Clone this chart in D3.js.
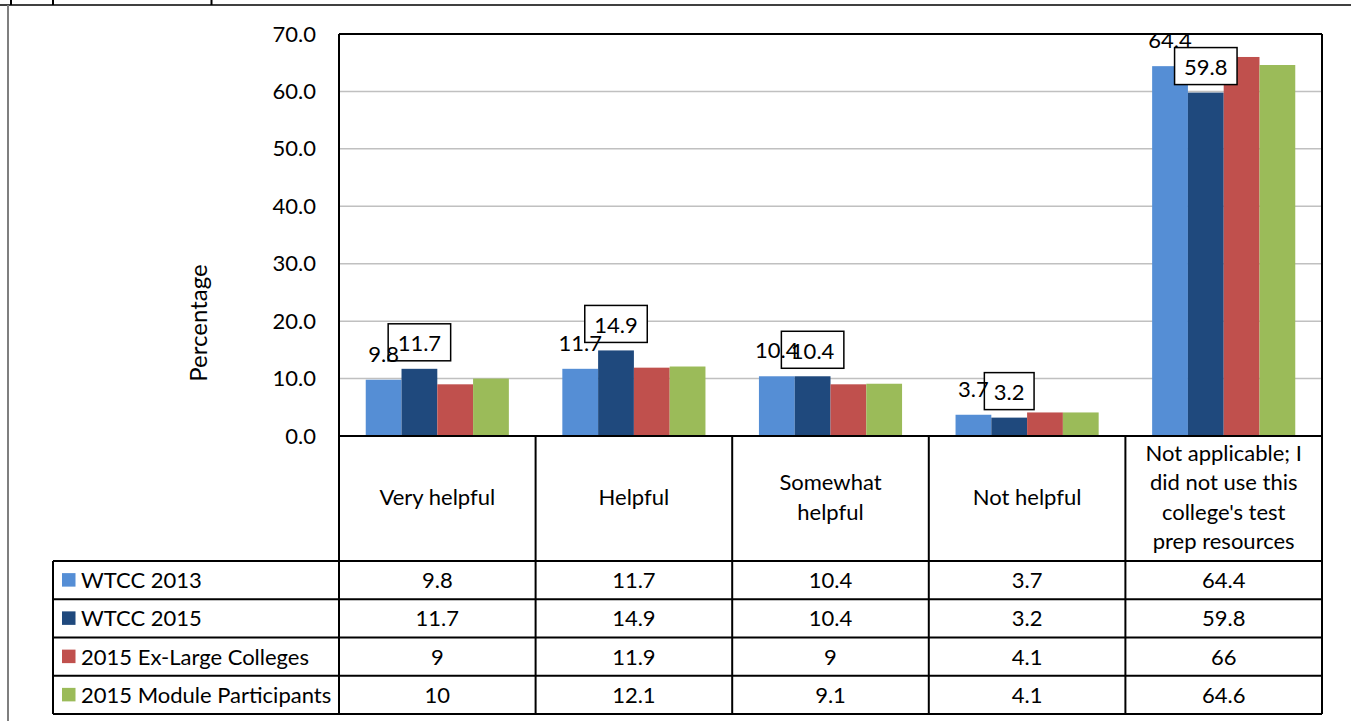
<!DOCTYPE html>
<html>
<head>
<meta charset="utf-8">
<script src="https://cdn.jsdelivr.net/npm/d3@7"></script>
<style>
  html, body { margin: 0; padding: 0; background: #fff; }
  svg { display: block; }
  text { font-family: Lato, "Open Sans", sans-serif; fill: #000; }
</style>
</head>
<body>
<svg id="chart" width="1351" height="721"></svg>
<script>
// Survey responses: helpfulness of the college's test prep resources
const categories = [
  "Very helpful",
  "Helpful",
  "Somewhat helpful",
  "Not helpful",
  "Not applicable; I did not use this college's test prep resources"
];
// Wrapped header text for the category cells of the data table
const categoryLines = [
  ["Very helpful"],
  ["Helpful"],
  ["Somewhat", "helpful"],
  ["Not helpful"],
  ["Not applicable; I", "did not use this", "college's test", "prep resources"]
];
const seriesNames = ["WTCC 2013", "WTCC 2015", "2015 Ex-Large Colleges", "2015 Module Participants"];
const wtcc2013 = [9.8, 11.7, 10.4, 3.7, 64.4];
const wtcc2015 = [11.7, 14.9, 10.4, 3.2, 59.8];
const exLarge2015 = [9, 11.9, 9, 4.1, 66];
const module2015 = [10, 12.1, 9.1, 4.1, 64.6];
const seriesValues = [wtcc2013, wtcc2015, exLarge2015, module2015];
const seriesColors = ["#558ED5", "#1F497D", "#C0504D", "#9BBB59"];
const yTicks = [0, 10, 20, 30, 40, 50, 60, 70];
const yTitle = "Percentage";

const svg = d3.select("#chart");
const FONT = 22;

// Plot area geometry
const plotL = 339, plotR = 1322, plotT = 34, plotB = 436;
const headerB = 561;
const rowH = 38.25;
const legendL = 53;

const x = d3.scaleBand().domain(categories).range([plotL, plotR]).padding(0);
const bw = x.bandwidth();
const groupPad = bw * 0.136;
const xs = d3.scaleBand().domain(seriesNames).range([groupPad, bw - groupPad]).padding(0);
const y = d3.scaleLinear().domain([0, 70]).range([plotB, plotT]);

// Fragment of the page above the chart
const page = svg.append("g");
page.append("line").attr("x1", 0).attr("x2", 1351).attr("y1", 5).attr("y2", 5)
  .attr("stroke", "#000").attr("stroke-width", 1.5);
[11, 53, 211.5].forEach(px => {
  page.append("line").attr("x1", px).attr("x2", px).attr("y1", 0).attr("y2", 5)
    .attr("stroke", "#000").attr("stroke-width", 2);
});
page.append("line").attr("x1", 8).attr("x2", 8).attr("y1", 5).attr("y2", 721)
  .attr("stroke", "#7f7f7f").attr("stroke-width", 2);

// Gridlines
svg.append("g").selectAll("line").data(yTicks).join("line")
  .attr("x1", plotL).attr("x2", plotR)
  .attr("y1", d => y(d)).attr("y2", d => y(d))
  .attr("stroke", "#c0c0c0").attr("stroke-width", 1.5);

// Bars
const groups = svg.append("g").selectAll("g").data(categories).join("g")
  .attr("transform", d => `translate(${x(d)},0)`);
groups.selectAll("rect")
  .data((c, i) => seriesNames.map((s, k) => ({ s, k, v: seriesValues[k][i] })))
  .join("rect")
  .attr("x", d => xs(d.s))
  .attr("width", xs.bandwidth())
  .attr("y", d => y(d.v))
  .attr("height", d => y(0) - y(d.v))
  .attr("fill", d => seriesColors[d.k]);

// Y axis tick labels
const yAxis = d3.axisLeft(y).tickValues(yTicks).tickFormat(d3.format(".1f")).tickSize(0).tickPadding(23);
const yg = svg.append("g").attr("transform", `translate(${plotL},0)`).call(yAxis);
yg.select(".domain").remove();
yg.selectAll("text").attr("font-size", FONT).attr("font-family", "Lato").attr("fill", "#000");

// Y axis title
svg.append("text")
  .attr("transform", `translate(207,323) rotate(-90)`)
  .attr("text-anchor", "middle")
  .attr("font-size", 24)
  .text(yTitle);

// Plot frame and data table grid
const grid = svg.append("g").attr("stroke", "#000").attr("stroke-width", 2).attr("fill", "none");
const rowYs = d3.range(5).map(i => headerB + i * rowH);
grid.append("line").attr("x1", plotL).attr("x2", plotR).attr("y1", plotT).attr("y2", plotT);
grid.append("line").attr("x1", plotL).attr("x2", plotR).attr("y1", plotB).attr("y2", plotB);
rowYs.forEach(ry => {
  grid.append("line").attr("x1", legendL).attr("x2", plotR).attr("y1", ry).attr("y2", ry);
});
grid.append("line").attr("x1", plotL).attr("x2", plotL).attr("y1", plotT).attr("y2", rowYs[4]);
grid.append("line").attr("x1", plotR).attr("x2", plotR).attr("y1", plotT).attr("y2", rowYs[4]);
grid.append("line").attr("x1", legendL).attr("x2", legendL).attr("y1", headerB).attr("y2", rowYs[4]);
categories.slice(1).forEach(c => {
  grid.append("line").attr("x1", x(c)).attr("x2", x(c)).attr("y1", plotB).attr("y2", rowYs[4]);
});

// Category header cells
const lineH = 29.5;
categories.forEach((c, i) => {
  const lines = categoryLines[i];
  const cx = x(c) + bw / 2;
  const t = svg.append("text").attr("text-anchor", "middle").attr("font-size", FONT);
  lines.forEach((ln, j) => {
    t.append("tspan").attr("x", cx)
      .attr("y", 505 + (j - (lines.length - 1) / 2) * lineH)
      .text(ln);
  });
});

// Legend keys and value rows
seriesNames.forEach((s, k) => {
  const top = rowYs[k];
  const mid = top + rowH / 2;
  svg.append("rect").attr("x", 62).attr("y", mid - 7).attr("width", 13.5).attr("height", 13.5)
    .attr("fill", seriesColors[k]);
  svg.append("text").attr("x", 81).attr("y", mid).attr("dy", "0.36em")
    .attr("font-size", FONT).text(s);
  categories.forEach((c, i) => {
    svg.append("text").attr("x", x(c) + bw / 2).attr("y", mid).attr("dy", "0.36em")
      .attr("text-anchor", "middle").attr("font-size", FONT)
      .text(String(seriesValues[k][i]));
  });
});

// Boxed value labels for WTCC 2015 (white boxes, text drawn afterwards)
const boxLayer = svg.append("g");
const labelLayer = svg.append("g");
categories.forEach((c, i) => {
  const v = wtcc2015[i];
  const cx = x(c) + xs(seriesNames[1]) + xs.bandwidth() / 2;
  const bottom = y(v) - 8;
  const rect = boxLayer.append("rect").attr("fill", "#fff").attr("stroke", "#000").attr("stroke-width", 1.5);
  const t = labelLayer.append("text").attr("x", cx).attr("y", bottom - 9.5)
    .attr("text-anchor", "middle").attr("font-size", FONT)
    .text(d3.format(".1f")(v));
  const w = t.node().getComputedTextLength() + 19;
  rect.attr("x", cx - w / 2).attr("y", bottom - 37).attr("width", w).attr("height", 37);
});

// Plain value labels for WTCC 2013, drawn over the boxes
categories.forEach((c, i) => {
  const v = wtcc2013[i];
  labelLayer.append("text")
    .attr("x", x(c) + xs(seriesNames[0]) + xs.bandwidth() / 2)
    .attr("y", y(v) - 18)
    .attr("text-anchor", "middle").attr("font-size", FONT)
    .text(d3.format(".1f")(v));
});
</script>
</body>
</html>
